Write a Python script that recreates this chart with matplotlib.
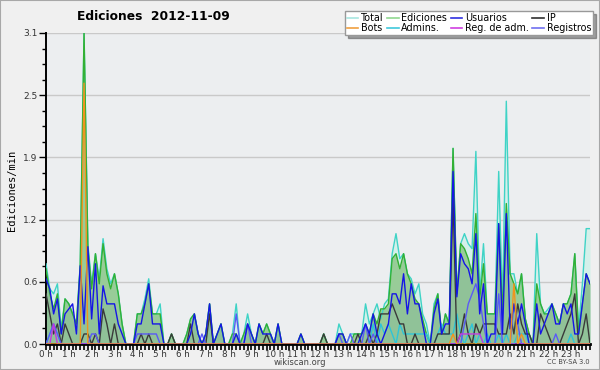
import numpy as np
import matplotlib
matplotlib.use("Agg")
import matplotlib.pyplot as plt
from matplotlib.lines import Line2D
from matplotlib.patches import Rectangle

# edits per minute, 10-minute buckets (6 per hour, one row per hour)
hour_labels = [f"{h} h" for h in range(24)]

total = [
    0.8, 0.55, 0.5, 0.6, 0.15, 0.45,
    0.4, 0.3, 0.2, 0.8, 3.1, 1.0,
    0.6, 0.9, 0.65, 1.05, 0.75, 0.6,
    0.7, 0.5, 0.2, 0.0, 0.0, 0.0,
    0.3, 0.3, 0.45, 0.65, 0.3, 0.3,
    0.4, 0.0, 0.0, 0.1, 0.0, 0.0,
    0.0, 0.1, 0.25, 0.3, 0.1, 0.0,
    0.1, 0.4, 0.0, 0.1, 0.2, 0.0,
    0.0, 0.1, 0.4, 0.0, 0.1, 0.3,
    0.1, 0.0, 0.2, 0.1, 0.2, 0.1,
    0.0, 0.2, 0.0, 0.0, 0.0, 0.0,
    0.0, 0.1, 0.0, 0.0, 0.0, 0.0,
    0.0, 0.1, 0.0, 0.0, 0.0, 0.2,
    0.1, 0.0, 0.1, 0.1, 0.1, 0.1,
    0.4, 0.2, 0.3, 0.4, 0.25, 0.4,
    0.45, 0.9, 1.1, 0.85, 0.9, 0.7,
    0.65, 0.5, 0.6, 0.3, 0.2, 0.0,
    0.4, 0.5, 0.1, 0.3, 0.2, 1.95,
    0.5, 1.0, 1.1, 1.0, 0.95, 1.92,
    0.5, 1.0, 0.3, 0.3, 0.3, 1.72,
    0.4, 2.42, 0.7, 0.7, 0.5, 0.7,
    0.25, 0.1, 0.0, 1.1, 0.4, 0.3,
    0.35, 0.4, 0.3, 0.2, 0.4, 0.4,
    0.5, 0.9, 0.15, 0.6, 1.15, 1.15,
]

ediciones = [
    0.75, 0.5, 0.35, 0.5, 0.1, 0.45,
    0.4, 0.3, 0.2, 0.78, 3.1, 0.97,
    0.55, 0.9, 0.6, 1.0, 0.7, 0.55,
    0.7, 0.5, 0.2, 0.0, 0.0, 0.0,
    0.3, 0.3, 0.4, 0.6, 0.3, 0.3,
    0.3, 0.0, 0.0, 0.1, 0.0, 0.0,
    0.0, 0.1, 0.25, 0.3, 0.1, 0.0,
    0.1, 0.4, 0.0, 0.1, 0.2, 0.0,
    0.0, 0.1, 0.1, 0.0, 0.1, 0.2,
    0.1, 0.0, 0.2, 0.1, 0.2, 0.1,
    0.0, 0.2, 0.0, 0.0, 0.0, 0.0,
    0.0, 0.1, 0.0, 0.0, 0.0, 0.0,
    0.0, 0.1, 0.0, 0.0, 0.0, 0.1,
    0.1, 0.0, 0.0, 0.1, 0.1, 0.1,
    0.2, 0.1, 0.3, 0.2, 0.35, 0.35,
    0.4, 0.85, 0.9, 0.75, 0.9, 0.7,
    0.6, 0.45, 0.4, 0.25, 0.1, 0.0,
    0.35, 0.5, 0.1, 0.3, 0.2, 1.95,
    0.5, 1.0, 0.95, 0.85, 0.7, 1.3,
    0.45, 0.8, 0.3, 0.3, 0.3, 1.2,
    0.3, 1.4, 0.7, 0.6, 0.5, 0.7,
    0.25, 0.1, 0.0, 0.6, 0.4, 0.3,
    0.3, 0.4, 0.3, 0.2, 0.4, 0.4,
    0.5, 0.9, 0.1, 0.4, 0.7, 0.6,
]

usuarios = [
    0.65, 0.55, 0.3, 0.45, 0.1, 0.3,
    0.35, 0.4, 0.1, 0.78, 0.2, 0.97,
    0.25, 0.8, 0.1, 0.58, 0.4, 0.4,
    0.4, 0.2, 0.1, 0.0, 0.0, 0.0,
    0.2, 0.2, 0.4, 0.6, 0.2, 0.2,
    0.2, 0.0, 0.0, 0.0, 0.0, 0.0,
    0.0, 0.0, 0.1, 0.3, 0.1, 0.0,
    0.1, 0.4, 0.0, 0.1, 0.2, 0.0,
    0.0, 0.0, 0.1, 0.0, 0.0, 0.2,
    0.1, 0.0, 0.2, 0.1, 0.1, 0.1,
    0.0, 0.2, 0.0, 0.0, 0.0, 0.0,
    0.0, 0.1, 0.0, 0.0, 0.0, 0.0,
    0.0, 0.0, 0.0, 0.0, 0.0, 0.1,
    0.1, 0.0, 0.0, 0.0, 0.0, 0.1,
    0.2, 0.1, 0.3, 0.1, 0.0, 0.1,
    0.2, 0.5, 0.5, 0.4, 0.7, 0.3,
    0.6, 0.4, 0.4, 0.2, 0.0, 0.0,
    0.3, 0.45, 0.1, 0.2, 0.2, 1.72,
    0.47, 0.9, 0.8, 0.75, 0.6, 1.1,
    0.3, 0.6, 0.0, 0.1, 0.1, 1.2,
    0.1, 1.3, 0.15, 0.4, 0.2, 0.4,
    0.2, 0.0, 0.0, 0.4, 0.1, 0.2,
    0.3, 0.4, 0.2, 0.2, 0.4, 0.3,
    0.4, 0.1, 0.1, 0.4, 0.7, 0.6,
]

ip = [
    0.5, 0.3, 0.1, 0.2, 0.0, 0.2,
    0.1, 0.0, 0.0, 0.0, 0.1, 0.1,
    0.0, 0.1, 0.0, 0.35, 0.2, 0.0,
    0.2, 0.0, 0.0, 0.0, 0.0, 0.0,
    0.0, 0.1, 0.0, 0.1, 0.0, 0.0,
    0.0, 0.0, 0.0, 0.1, 0.0, 0.0,
    0.0, 0.0, 0.2, 0.0, 0.0, 0.0,
    0.0, 0.3, 0.0, 0.0, 0.0, 0.0,
    0.0, 0.0, 0.0, 0.0, 0.0, 0.0,
    0.0, 0.0, 0.0, 0.0, 0.1, 0.0,
    0.0, 0.0, 0.0, 0.0, 0.0, 0.0,
    0.0, 0.0, 0.0, 0.0, 0.0, 0.0,
    0.0, 0.1, 0.0, 0.0, 0.0, 0.0,
    0.0, 0.0, 0.0, 0.0, 0.1, 0.0,
    0.0, 0.1, 0.0, 0.1, 0.3, 0.3,
    0.3, 0.4, 0.3, 0.2, 0.2, 0.0,
    0.0, 0.1, 0.0, 0.0, 0.0, 0.0,
    0.0, 0.1, 0.1, 0.1, 0.1, 1.45,
    0.0, 0.1, 0.3, 0.1, 0.0, 0.2,
    0.1, 0.2, 0.2, 0.2, 0.2, 0.1,
    0.1, 0.1, 0.3, 0.1, 0.4, 0.2,
    0.1, 0.1, 0.0, 0.0, 0.3, 0.2,
    0.1, 0.0, 0.0, 0.0, 0.1, 0.2,
    0.3, 0.5, 0.0, 0.1, 0.3, 0.0,
]

bots = [0.0] * 10 + [2.6] + [0.0] * 96 + [0.1] + [0.0] * 15 + [0.6, 0.0, 0.1] + [0.0] * 18

admins = [
    0.0, 0.1, 0.2, 0.1, 0.0, 0.0,
    0.0, 0.0, 0.0, 0.0, 0.0, 0.0,
    0.0, 0.0, 0.0, 0.0, 0.0, 0.0,
    0.0, 0.0, 0.0, 0.0, 0.0, 0.0,
    0.0, 0.0, 0.0, 0.0, 0.0, 0.0,
    0.0, 0.0, 0.0, 0.0, 0.0, 0.0,
    0.0, 0.0, 0.0, 0.0, 0.0, 0.0,
    0.0, 0.0, 0.0, 0.0, 0.0, 0.0,
    0.0, 0.0, 0.0, 0.0, 0.0, 0.0,
    0.0, 0.0, 0.0, 0.0, 0.0, 0.0,
    0.0, 0.0, 0.0, 0.0, 0.0, 0.0,
    0.0, 0.0, 0.0, 0.0, 0.0, 0.0,
    0.0, 0.0, 0.0, 0.0, 0.0, 0.0,
    0.0, 0.0, 0.0, 0.0, 0.0, 0.0,
    0.0, 0.0, 0.2, 0.0, 0.2, 0.1,
    0.2, 0.1, 0.0, 0.2, 0.1, 0.1,
    0.1, 0.1, 0.1, 0.1, 0.1, 0.0,
    0.0, 0.1, 0.2, 0.1, 0.1, 0.1,
    0.3, 0.1, 0.0, 0.1, 0.2, 0.0,
    0.1, 0.0, 0.1, 0.0, 0.0, 0.1,
    0.0, 0.1, 0.0, 0.0, 0.1, 0.1,
    0.1, 0.0, 0.0, 0.0, 0.0, 0.0,
    0.0, 0.0, 0.0, 0.0, 0.0, 0.0,
    0.1, 0.0, 0.0, 0.0, 0.0, 0.0,
]

reg_adm = [0.0, 0.0, 0.2] + [0.0] * 106 + [0.1] * 6 + [0.0] * 29

registros = [
    0.0, 0.1, 0.2, 0.1, 0.0, 0.0,
    0.0, 0.0, 0.0, 0.0, 0.0, 0.0,
    0.1, 0.1, 0.0, 0.0, 0.0, 0.0,
    0.0, 0.0, 0.0, 0.0, 0.0, 0.0,
    0.1, 0.1, 0.1, 0.1, 0.1, 0.1,
    0.0, 0.0, 0.0, 0.0, 0.0, 0.0,
    0.0, 0.0, 0.0, 0.0, 0.0, 0.1,
    0.0, 0.0, 0.0, 0.0, 0.0, 0.0,
    0.0, 0.0, 0.3, 0.0, 0.0, 0.2,
    0.0, 0.0, 0.0, 0.0, 0.0, 0.0,
    0.0, 0.0, 0.0, 0.0, 0.0, 0.0,
    0.0, 0.0, 0.0, 0.0, 0.0, 0.0,
    0.0, 0.0, 0.0, 0.0, 0.0, 0.1,
    0.0, 0.0, 0.1, 0.0, 0.0, 0.0,
    0.2, 0.0, 0.1, 0.0, 0.0, 0.0,
    0.0, 0.0, 0.0, 0.0, 0.0, 0.0,
    0.0, 0.0, 0.0, 0.0, 0.0, 0.0,
    0.0, 0.0, 0.0, 0.0, 0.0, 0.0,
    0.0, 0.0, 0.2, 0.4, 0.5, 0.6,
    0.45, 0.2, 0.0, 0.0, 0.0, 0.5,
    0.0, 0.0, 0.0, 0.4, 0.2, 0.0,
    0.0, 0.0, 0.0, 0.0, 0.0, 0.0,
    0.0, 0.0, 0.1, 0.0, 0.0, 0.0,
    0.0, 0.0, 0.0, 0.0, 0.0, 0.0,
]

x = np.arange(len(total))

fig = plt.figure(figsize=(6, 3.7), dpi=100)
fig.patch.set_facecolor("#f0f0f0")
ax = fig.add_axes([46 / 600, 26 / 370, 544 / 600, 311 / 370])
ax.set_facecolor("#eceef0")

# filled areas
ax.fill_between(x, total, color="#d4f0ea", lw=0, zorder=1)
ax.fill_between(x, ediciones, color="#98cc98", lw=0, zorder=2)
ax.fill_between(x, usuarios, color="#50709a", alpha=0.10, lw=0, zorder=3)

lw = 1.0
ax.plot(x, total, color="#3fd3c6", lw=lw, zorder=4)
ax.plot(x, ediciones, color="#33b033", lw=lw, zorder=5)
ax.plot(x, admins, color="#2ec4d8", lw=lw, zorder=6)
ax.plot(x, ip, color="#3a3a3a", lw=lw, zorder=7)
ax.plot(x, registros, color="#5a5af5", lw=lw, zorder=8)
ax.plot(x, reg_adm, color="#c23ae0", lw=lw, zorder=9)
ax.plot(x, usuarios, color="#1515e6", lw=lw, zorder=10)
ax.plot(x, bots, color="#f0941e", lw=lw, zorder=11)

ax.set_xlim(0, len(total) - 1)
ax.set_ylim(0, 3.1)

yt = np.linspace(0, 3.1, 6)
ax.set_yticks(yt)
ax.set_yticklabels([f"{v:.1f}" for v in yt])
ax.set_yticks(np.linspace(0, 3.1, 21), minor=True)
ax.set_xticks(x[::6])
ax.set_xticklabels(hour_labels)
ax.set_xticks(x, minor=True)

ax.yaxis.grid(True, color="#c9c9c9", lw=1)
ax.set_axisbelow(True)
for s in ["top", "right"]:
    ax.spines[s].set_visible(False)
ax.spines["left"].set_linewidth(1.4)
ax.spines["bottom"].set_linewidth(2)
ax.tick_params(axis="y", which="major", length=5, width=1, labelsize=6.5, pad=1, labelcolor="#333333")
ax.tick_params(axis="y", which="minor", length=3, width=1)
ax.tick_params(axis="x", which="both", length=4, width=1.2, labelsize=6.3, pad=0, labelcolor="#333333")

fig.text(153 / 600, 1 - 17 / 370, "Ediciones  2012-11-09", ha="center", va="center",
         fontsize=8.8, fontweight="bold")
fig.text(12 / 600, 1 - 190 / 370, "Ediciones/min", rotation=90, ha="center", va="center",
         fontsize=7.5, family="DejaVu Sans Mono")
fig.text(300 / 600, 1 - 362.5 / 370, "wikiscan.org", ha="center", va="center", fontsize=6, color="#444444")
fig.text(590 / 600, 1 - 362.5 / 370, "CC BY-SA 3.0", ha="right", va="center", fontsize=4.8, color="#444444")

# legend, filled column by column
handles = [
    Line2D([], [], color="#a8e6e0", lw=1.2), Line2D([], [], color="#f0a040", lw=1.2),
    Line2D([], [], color="#90d890", lw=1.2), Line2D([], [], color="#40c8dc", lw=1.2),
    Line2D([], [], color="#3030e0", lw=1.2), Line2D([], [], color="#d040e0", lw=1.2),
    Line2D([], [], color="#303030", lw=1.2), Line2D([], [], color="#7070f0", lw=1.2),
]
labels = ["Total", "Bots", "Ediciones", "Admins.", "Usuarios", "Reg. de adm.", "IP", "Registros"]
leg = fig.legend(handles, labels, ncol=4, loc="upper right", bbox_to_anchor=(593 / 600, 1 - 11 / 370),
                 fontsize=6.9, frameon=True, fancybox=False, shadow=True, handlelength=1.2,
                 handletextpad=0.3, columnspacing=0.35, labelspacing=0.0, borderpad=0.2,
                 borderaxespad=0)
leg.get_frame().set_edgecolor("#999999")
leg.get_frame().set_facecolor("white")

fig.add_artist(Rectangle((0, 0), 1, 1, transform=fig.transFigure, fill=False,
                         edgecolor="#a8a8a8", lw=1.5))

fig.savefig("out.png", dpi=100, facecolor=fig.get_facecolor())
